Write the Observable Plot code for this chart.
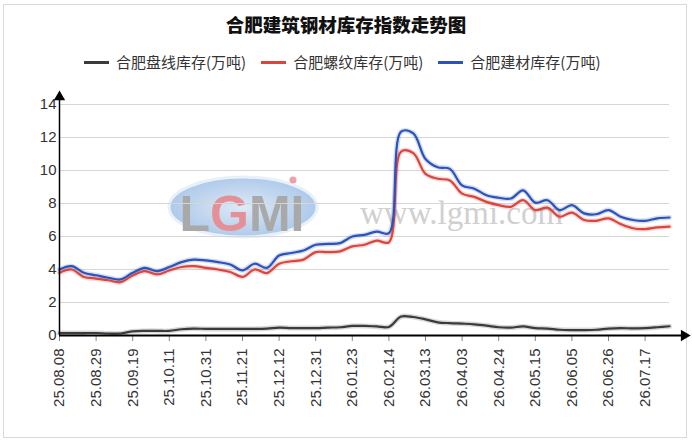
<!DOCTYPE html>
<html><head><meta charset="utf-8">
<script src="https://cdn.jsdelivr.net/npm/d3@7"></script>
<script src="https://cdn.jsdelivr.net/npm/@observablehq/plot@0.6"></script>
<style>
body{margin:0;background:#fff;}
#wrap{position:relative;width:692px;height:442px;overflow:hidden;background:#fff;font-family:"Noto Sans CJK SC","Noto Sans",sans-serif;}
#border{position:absolute;left:3px;top:4px;width:684px;height:434px;border:1px solid #d9d9d9;box-sizing:border-box;}
#title{position:absolute;left:0;top:11px;width:692px;text-align:center;font-size:18.5px;font-weight:900;color:#111;line-height:26px;}
#legend{position:absolute;left:84px;top:51px;display:flex;align-items:center;font-size:15px;color:#333;line-height:22px;}
.item{display:flex;align-items:center;margin-right:15px;}
.sw{width:25px;height:3px;margin-right:7px;}
#wm{position:absolute;left:0;top:0;}
#chart{position:absolute;left:0;top:78px;}
</style></head>
<body>
<div id="wrap">
  <div id="border"></div>
  <svg id="wm" width="692" height="442">
    <defs><radialGradient id="g" cx="50%" cy="50%" r="50%"><stop offset="0" stop-color="#dde9f6"/><stop offset="1" stop-color="#aecaea"/></radialGradient></defs>
    <ellipse cx="243" cy="207" rx="74" ry="30" fill="url(#g)" stroke="#e8f0fa" stroke-width="3"/>
    <text x="242" y="231" text-anchor="middle" font-family="Liberation Sans" font-weight="bold" font-size="50" fill="#a9a9a9"><tspan>L</tspan><tspan fill="#e58f96">G</tspan><tspan>MI</tspan></text>
    <circle cx="293" cy="180" r="3.5" fill="#f0a0a8"/>
    <text x="360" y="224" font-family="Liberation Serif" font-size="33" fill="#d0d0d0">www.lgmi.com</text>
  </svg>
  <div id="title">合肥建筑钢材库存指数走势图</div>
  <div id="legend"></div>
  <div id="chart"></div>
</div>
<script>
const dates = ["25.08.08","25.08.15","25.08.22","25.08.29","25.09.05","25.09.12","25.09.19","25.09.26","25.09.30","25.10.11",
"25.10.17","25.10.24","25.10.31","25.11.07","25.11.14","25.11.21","25.11.28","25.12.05","25.12.12","25.12.19",
"25.12.26","25.12.31","26.01.09","26.01.16","26.01.23","26.01.30","26.02.06","26.02.14","26.02.27","26.03.06",
"26.03.13","26.03.20","26.03.27","26.04.03","26.04.10","26.04.17","26.04.24","26.04.30","26.05.08","26.05.15",
"26.05.22","26.05.29","26.06.05","26.06.12","26.06.19","26.06.26","26.07.03","26.07.10","26.07.17","26.07.24","26.07.31"];
const tickIdx = [0,3,6,9,12,15,18,21,24,27,30,33,36,39,42,45,48];
const yTicks = [0,2,4,6,8,10,12,14];
const gridValues = [2,4,6,8,10,12,14];
const seriesNames = ["合肥盘线库存(万吨)","合肥螺纹库存(万吨)","合肥建材库存(万吨)"];
const seriesColors = ["#3b3b3b","#d9453f","#2b53b9"];
const panxian = [0.15,0.15,0.15,0.15,0.12,0.12,0.25,0.28,0.28,0.28,
0.38,0.42,0.40,0.40,0.40,0.40,0.40,0.42,0.48,0.45,
0.45,0.45,0.48,0.50,0.58,0.58,0.55,0.52,1.15,1.12,
0.98,0.80,0.75,0.72,0.68,0.60,0.50,0.48,0.55,0.45,
0.42,0.35,0.33,0.33,0.35,0.42,0.45,0.43,0.45,0.50,0.56];
const luowen = [3.80,4.00,3.55,3.45,3.35,3.23,3.64,3.90,3.70,3.94,
4.15,4.20,4.10,4.00,3.85,3.55,4.00,3.78,4.35,4.50,
4.60,5.05,5.05,5.10,5.40,5.50,5.75,5.65,11.15,11.05,
9.80,9.50,9.40,8.60,8.40,8.10,7.90,7.80,8.20,7.60,
7.75,7.20,7.45,7.00,6.95,7.10,6.75,6.50,6.45,6.55,6.60];
const jiancai = [4.00,4.20,3.80,3.65,3.50,3.40,3.80,4.10,3.90,4.15,
4.45,4.60,4.55,4.45,4.30,3.95,4.35,4.10,4.85,5.00,
5.15,5.50,5.55,5.60,6.00,6.10,6.30,6.20,12.35,12.25,
10.70,10.20,10.10,9.10,8.90,8.50,8.35,8.30,8.80,8.05,
8.20,7.60,7.90,7.40,7.35,7.60,7.20,7.00,6.95,7.10,7.15];
const seriesValues = [panxian, luowen, jiancai];

const legend = document.getElementById("legend");
seriesNames.forEach((n,k)=>{
  const it = document.createElement("div"); it.className="item";
  it.innerHTML = `<span class="sw" style="background:${seriesColors[k]}"></span><span>${n}</span>`;
  legend.appendChild(it);
});

const lineMarks = [];
seriesValues.forEach((vals,k)=>{
  lineMarks.push(Plot.line(vals, {x:(d,i)=>i, y:d=>d, stroke:seriesColors[k], strokeWidth:5, strokeOpacity:0.2, curve:"catmull-rom"}));
});
seriesValues.forEach((vals,k)=>{
  lineMarks.push(Plot.line(vals, {x:(d,i)=>i, y:d=>d, stroke:seriesColors[k], strokeWidth:2.2, curve:"catmull-rom"}));
});

const chart = Plot.plot({
  width: 692, height: 364,
  marginLeft: 59, marginRight: 23, marginTop: 26, marginBottom: 107,
  style: {fontFamily: '"Liberation Sans", Arial, sans-serif', fontSize: "15px", color: "#333", background: "transparent", overflow: "visible"},
  x: {domain: [0, 50]},
  y: {domain: [0, 14]},
  marks: [
    Plot.ruleY(gridValues, {x1: 0, x2: 50, stroke: "#d6d6d6", strokeWidth: 1.2}),
    Plot.axisY({ticks: yTicks, tickSize: 0, tickPadding: 3, label: null, fontSize: 15, fill: "#333"}),
    Plot.axisX({ticks: tickIdx, tickFormat: i => dates[i], tickRotate: -90, tickSize: 6, tickPadding: 7, label: null, fontSize: 15, fill: "#333", stroke: "#888"}),
    ...lineMarks,
    Plot.ruleX([0], {y1: 0, y2: 14.3, stroke: "#000", strokeWidth: 1.5}),
    Plot.ruleY([0], {x1: 0, x2: 51, stroke: "#000", strokeWidth: 2}),
    Plot.dot([{x:0, y:14.45}], {x:"x", y:"y", symbol:"triangle", r:4.2, fill:"#000"}),
    Plot.dot([{x:51.2, y:0}], {x:"x", y:"y", symbol:"triangle", r:4.2, fill:"#000", rotate:90})
  ]
});
document.getElementById("chart").appendChild(chart);
</script>
</body></html>
